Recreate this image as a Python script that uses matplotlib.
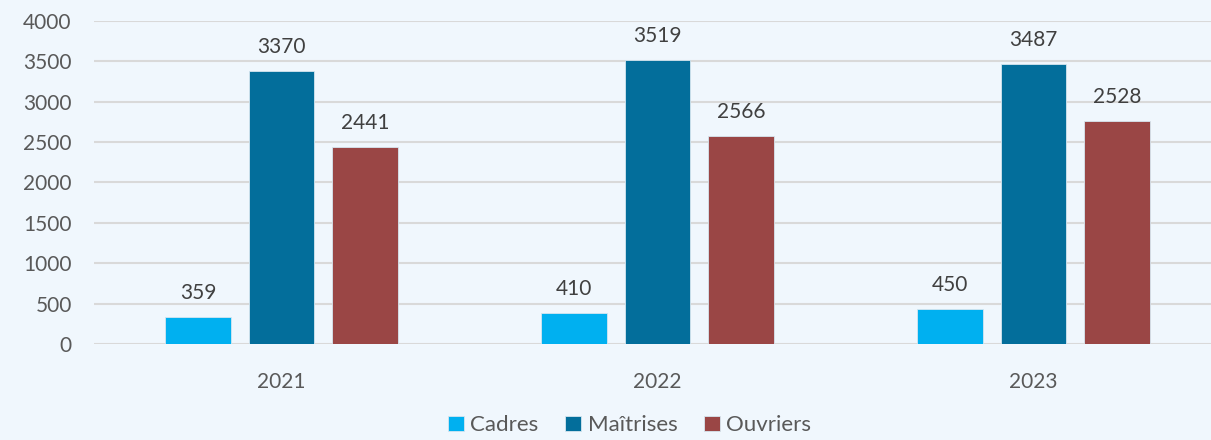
import numpy as np
import matplotlib
matplotlib.use("Agg")
import matplotlib.pyplot as plt

# Data
years = ["2021", "2022", "2023"]
series = ["Cadres", "Maîtrises", "Ouvriers"]
# bar heights as drawn
cadres = [337, 387, 433]
maitrises = [3375, 3514, 3465]
ouvriers = [2443, 2571, 2764]
# value labels as printed
cadres_lbl = ["359", "410", "450"]
maitrises_lbl = ["3370", "3519", "3487"]
ouvriers_lbl = ["2441", "2566", "2528"]

colors = ["#00B0F0", "#036E9B", "#9A4645"]
bg = "#F0F7FD"
txt = "#595959"

plt.rcParams['font.family'] = ['Lato', 'DejaVu Sans']

fig = plt.figure(figsize=(12.11, 4.40), dpi=100, facecolor=bg)
ax = fig.add_axes([94 / 1211, (440 - 344.3) / 440, 1 - 94 / 1211, (344.3 - 20.7) / 440])
ax.set_facecolor(bg)

x = np.arange(len(years))
width = 0.174
offset = 0.222
values = [cadres, maitrises, ouvriers]
labels = [cadres_lbl, maitrises_lbl, ouvriers_lbl]

for i, (name, vals, lbls, c) in enumerate(zip(series, values, labels, colors)):
    pos = x + (i - 1) * offset
    bars = ax.bar(pos, vals, width, color=c, label=name, zorder=3,
                  edgecolor="#d6e6f0", linewidth=0.6)
    for b, t in zip(bars, lbls):
        ax.annotate(t, (b.get_x() + b.get_width() / 2, b.get_height()),
                    xytext=(0, 10), textcoords="offset points",
                    ha="center", va="bottom", fontsize=15, color="#404040")

ax.set_ylim(0, 4000)
ax.set_yticks(np.arange(0, 4001, 500))
ax.set_xlim(-0.4987, 2.472)
ax.set_xticks(x)
ax.set_xticklabels(years)
ax.grid(axis="y", color="#D9D9D9", linewidth=1.5, zorder=0)
for s in ax.spines.values():
    s.set_visible(False)
ax.tick_params(axis="y", length=0, pad=16, labelsize=15, labelcolor=txt)
ax.tick_params(axis="x", length=0, pad=20, labelsize=15, labelcolor=txt)

fig.legend(loc="center", bbox_to_anchor=(0.52, 0.033), ncol=3, frameon=False,
           fontsize=16, labelcolor=txt, handlelength=0.7, handleheight=0.7,
           handletextpad=0.3, columnspacing=1.2)

fig.savefig("out.png", dpi=100, facecolor=bg)
